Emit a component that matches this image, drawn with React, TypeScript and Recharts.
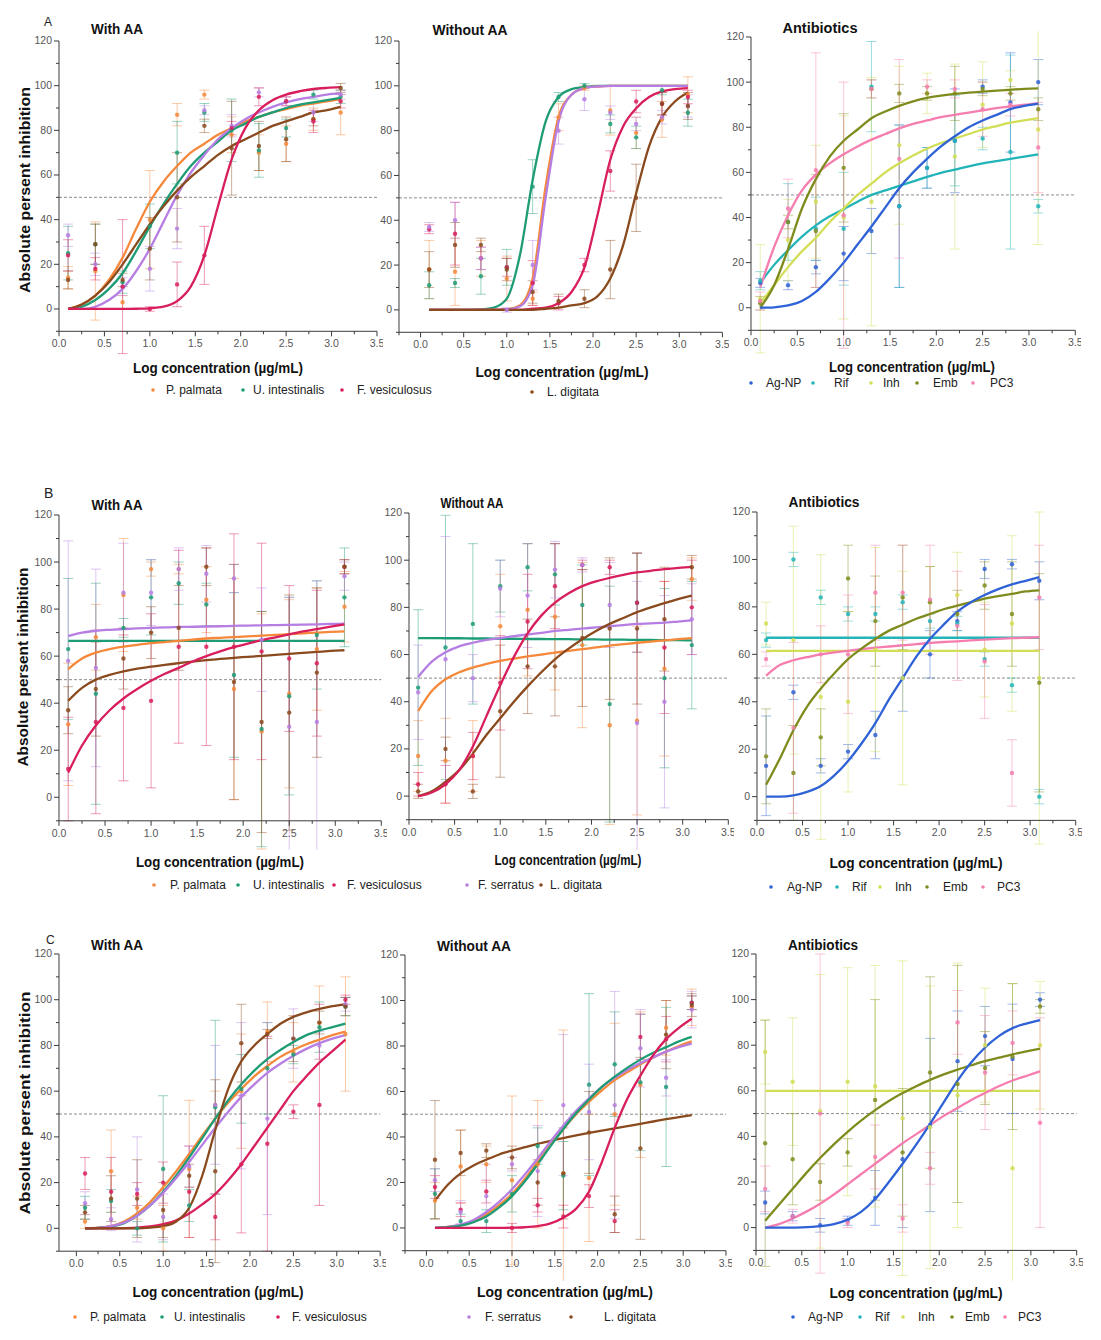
import React from 'react';
import { ComposedChart, Line, Scatter, ErrorBar, XAxis, YAxis, ReferenceLine } from 'recharts';

// Log concentrations (µg/mL) of the tested doses and of the fitted curve samples
const DOSE_X = [0.1, 0.4, 0.7, 1.0, 1.3, 1.6, 1.9, 2.2, 2.5, 2.8, 3.1];
const FIT_X = [0.1, 0.25, 0.4, 0.55, 0.7, 0.85, 1.0, 1.15, 1.3, 1.45, 1.6, 1.75, 1.9, 2.05, 2.2, 2.35, 2.5, 2.65, 2.8, 2.95, 3.1];
const X_TICKS = [-0.25, 0, 0.25, 0.5, 0.75, 1, 1.25, 1.5, 1.75, 2, 2.25, 2.5, 2.75, 3, 3.25, 3.5];
const Y_TICKS = [-10, 0, 10, 20, 30, 40, 50, 60, 70, 80, 90, 100, 110, 120];

const SEAWEED_NAMES = { palmata: 'P. palmata', intestinalis: 'U. intestinalis', vesiculosus: 'F. vesiculosus', serratus: 'F. serratus', digitata: 'L. digitata' };
const DRUG_NAMES = { agnp: 'Ag-NP', rif: 'Rif', inh: 'Inh', emb: 'Emb', pc3: 'PC3' };
const COLORS: Record<string, string> = {
  palmata: '#f5883a', intestinalis: '#1e9c75', vesiculosus: '#d81e5b', serratus: '#b67ee2', digitata: '#8a4a1e',
  agnp: '#2f62d6', rif: '#22b4b8', inh: '#d2de55', emb: '#7f8c1d', pc3: '#f57daf',
};

// ---------- Panel A ----------
const A_WITH_FIT = {
  palmata: [0, 2, 6, 13, 23, 36, 48, 57, 64, 70, 74, 78, 81, 84, 86, 88, 89.5, 91, 92, 93, 94],
  intestinalis: [0, 1, 4, 9, 16, 26, 37, 47, 56, 64, 70, 75, 80, 83, 86, 88, 90, 91.5, 92.5, 93.5, 94.5],
  serratus: [0, 0, 1, 4, 9, 17, 27, 39, 51, 61, 69, 76, 81, 85, 88, 90.5, 92.5, 94, 95, 96, 96.5],
  digitata: [0, 2, 6, 12, 20, 29, 38, 46, 53, 59, 64, 69, 73, 76, 79, 82, 84, 86, 88, 89, 90.5],
  vesiculosus: [0, 0, 0, 0, 0, 0.1, 0.3, 1, 3.5, 10, 24, 46, 67, 81, 89, 93.5, 96, 97.5, 98.5, 99, 99.3],
};
const A_WITH_MEAN = {
  palmata: [14, 17, 3, 40, 87, 96, 78, 70, 74, 85, 88],
  intestinalis: [25, 29, 12, 37, 70, 88, 80, 71, 81, 96, 95],
  serratus: [33, 20, 10, 18, 36, 89, 82, 97, 93, 88, 96],
  digitata: [13, 29, 13, 27, 50, 82, 72, 73, 76, 85, 99],
  vesiculosus: [24, 18, 10, 0, 11, 24, 81, 95, 93, 84, 93],
};
const A_WITH_ERR = {
  palmata: [5, 22, 3, 22, 5, 2, 8, 8, 8, 5, 10],
  intestinalis: [12, 9, 5, 10, 14, 4, 14, 12, 4, 2, 3],
  serratus: [5, 5, 4, 10, 9, 2, 5, 2, 2, 4, 2],
  digitata: [4, 9, 3, 14, 20, 3, 21, 11, 10, 3, 2],
  vesiculosus: [7, 5, 30, 1, 10, 13, 3, 4, 2, 5, 3],
};

const A_WITHOUT_FIT = {
  intestinalis: [0, 0, 0, 0, 0.2, 1, 5, 24, 58, 84, 95, 98.5, 99.5, 100, 100, 100, 100, 100, 100, 100, 100],
  palmata: [0, 0, 0, 0, 0, 0, 0.3, 2, 14, 55, 86, 96, 99, 99.7, 100, 100, 100, 100, 100, 100, 100],
  serratus: [0, 0, 0, 0, 0, 0, 0.2, 1.5, 11, 50, 84, 96, 99, 99.7, 100, 100, 100, 100, 100, 100, 100],
  vesiculosus: [0, 0, 0, 0, 0, 0, 0, 0, 0.5, 1, 3, 8, 19, 42, 67, 82, 90, 95, 97.5, 98.5, 99],
  digitata: [0, 0, 0, 0, 0, 0, 0, 0, 0, 0.5, 1, 2, 3, 6, 14, 29, 52, 73, 86, 93, 97],
};
const A_WITHOUT_MEAN = {
  palmata: [18, 17, 23, 14, 5, 86, 99, 89, 79, 85, 96],
  intestinalis: [11, 12, 15, 19, 55, 95, 100, 83, 77, 98, 88],
  vesiculosus: [36, 34, 23, 19, 12, 3, 20, 62, 93, 92, 95],
  serratus: [37, 40, 23, 0, 20, 80, 94, 88, 83, 86, 91],
  digitata: [18, 29, 29, 18, 8, 4, 5, 18, 50, 92, 91],
};
const A_WITHOUT_ERR = {
  palmata: [13, 15, 8, 10, 3, 6, 1, 11, 7, 8, 8],
  intestinalis: [6, 2, 8, 8, 12, 2, 1, 4, 5, 2, 6],
  vesiculosus: [2, 14, 5, 4, 10, 3, 3, 9, 5, 5, 3],
  serratus: [2, 8, 5, 1, 11, 6, 5, 3, 3, 3, 5],
  digitata: [8, 10, 3, 5, 5, 3, 4, 13, 15, 5, 6],
};

const A_ANTI_FIT = {
  rif: [11, 19, 25.5, 31.5, 36.5, 40.5, 43.7, 47, 50, 52, 54, 56, 58, 59.8, 61.2, 62.7, 64, 65, 66, 67, 68],
  inh: [2, 10, 18, 25, 31, 38, 44, 50, 55, 60, 64, 67.5, 70.5, 73, 75, 77, 79, 80.5, 82, 83, 84],
  pc3: [9, 27, 41, 52, 59, 64, 68, 71.5, 74.5, 77, 79.5, 81.5, 83, 84.5, 85.5, 86.5, 87.5, 88.5, 89.2, 90, 90.5],
  emb: [0, 10, 26, 44, 57, 67, 74, 79, 84, 87, 89.5, 91.5, 93, 94, 94.8, 95.3, 95.8, 96.2, 96.6, 97, 97.2],
  agnp: [0, 0.2, 1, 3, 7, 13, 20, 28, 36, 44.5, 53, 60, 66, 71.5, 76, 80, 83, 85.5, 88, 89.5, 90.5],
};
const A_ANTI_MEAN = {
  agnp: [11, 10, 18, 24, 34, 45, 62, 74, 98, 91, 100],
  rif: [12, 38, 35, 35, 98, 45, 62, 74, 75, 69, 45],
  inh: [4, 30, 47, 40, 47, 72, 95, 67, 90, 101, 79],
  emb: [2, 38, 34, 62, 97, 95, 95, 95, 97, 95, 88],
  pc3: [3, 44, 61, 41, 97, 66, 98, 97, 88, 90, 71],
};
const A_ANTI_ERR = {
  agnp: [2, 2, 3, 12, 10, 36, 9, 23, 3, 22, 10],
  rif: [4, 17, 14, 25, 20, 36, 9, 20, 5, 43, 3],
  inh: [24, 18, 25, 45, 55, 35, 9, 41, 19, 4, 51],
  emb: [3, 3, 25, 24, 4, 4, 3, 12, 3, 3, 5],
  pc3: [4, 13, 52, 59, 4, 44, 3, 4, 12, 5, 20],
};

// ---------- Panel B ----------
const B_WITH_FIT = {
  serratus: [68.5, 70, 70.8, 71.2, 71.5, 71.8, 72, 72.2, 72.4, 72.5, 72.6, 72.7, 72.9, 73, 73.1, 73.2, 73.3, 73.4, 73.5, 73.7, 73.8],
  intestinalis: [66.5, 66.5, 66.5, 66.5, 66.5, 66.5, 66.5, 66.5, 66.5, 66.5, 66.5, 66.5, 66.5, 66.5, 66.5, 66.5, 66.5, 66.5, 66.5, 66.5, 66.5],
  palmata: [54.5, 59, 61.5, 63, 64, 64.8, 65.5, 66, 66.5, 67, 67.5, 67.8, 68.1, 68.4, 68.7, 69, 69.4, 69.7, 70, 70.3, 70.5],
  digitata: [41, 46.5, 50, 52, 53.5, 54.7, 55.5, 56.3, 57, 57.7, 58.3, 58.8, 59.3, 59.7, 60.1, 60.5, 61, 61.4, 61.8, 62.2, 62.5],
  vesiculosus: [10.5, 22, 30.5, 37, 42, 46, 49.5, 52.5, 55, 57.7, 60, 62, 63.8, 65.3, 66.8, 68, 69.3, 70.5, 71.5, 72.5, 73.5],
};
const B_WITH_MEAN = {
  palmata: [31, 68, 86, 97, 97, 84, 46, 28, 44, 63, 81],
  intestinalis: [63, 44, 72, 85, 91, 82, 52, 29, 43, 69, 85],
  vesiculosus: [12, 32, 38, 41, 64, 64, 64, 62, 59, 57, 98],
  serratus: [58, 55, 87, 87, 97, 95, 93, 67, 30, 32, 94],
  digitata: [37, 46, 59, 70, 72, 98, 49, 32, 36, 53, 98],
};
const B_WITH_ERR = {
  palmata: [26, 14, 24, 3, 2, 14, 47, 50, 40, 26, 15],
  intestinalis: [30, 47, 4, 16, 9, 9, 35, 50, 42, 23, 21],
  vesiculosus: [22, 39, 31, 37, 41, 42, 48, 46, 31, 31, 3],
  serratus: [51, 42, 21, 14, 9, 12, 6, 22, 55, 60, 6],
  digitata: [10, 20, 13, 11, 18, 8, 50, 47, 50, 36, 3],
};

const B_WITHOUT_FIT = {
  intestinalis: [67, 67, 66.9, 66.9, 66.8, 66.8, 66.7, 66.7, 66.6, 66.6, 66.5, 66.5, 66.4, 66.4, 66.3, 66.3, 66.2, 66.2, 66.1, 66.1, 66],
  serratus: [50.5, 57, 61, 63.5, 65, 66.2, 67, 67.8, 68.5, 69.2, 70, 70.5, 71, 71.5, 72, 72.5, 73, 73.2, 73.5, 74, 74.5],
  palmata: [36, 44.5, 49.5, 52.5, 54.5, 56, 57.3, 58.3, 59.2, 60, 60.8, 61.6, 62.3, 63, 63.8, 64.4, 65, 65.5, 66, 66.5, 67],
  digitata: [0, 2, 6, 11, 18, 26, 33, 40, 46.5, 52.5, 58, 62.5, 66.5, 70, 73, 75.5, 78, 80, 81.8, 83.5, 85],
  vesiculosus: [0, 1.5, 5, 11, 21, 34, 47, 59, 69, 76.5, 82, 86, 89, 91, 92.5, 93.8, 94.8, 95.5, 96.2, 96.7, 97.2],
};
const B_WITHOUT_MEAN = {
  palmata: [17, 15, 17, 72, 79, 76, 64, 30, 32, 54, 92],
  intestinalis: [46, 63, 73, 89, 97, 94, 81, 39, 82, 50, 64],
  vesiculosus: [5, 5, 17, 48, 74, 89, 98, 97, 82, 63, 80],
  serratus: [44, 58, 50, 88, 85, 96, 98, 81, 31, 40, 75],
  digitata: [2, 20, 2, 36, 55, 55, 67, 71, 71, 75, 97],
};
const B_WITHOUT_ERR = {
  palmata: [15, 18, 15, 22, 28, 31, 35, 42, 40, 37, 9],
  intestinalis: [33, 56, 34, 11, 10, 13, 17, 50, 21, 38, 27],
  vesiculosus: [5, 8, 10, 20, 20, 18, 2, 3, 21, 28, 20],
  serratus: [20, 52, 10, 12, 22, 12, 3, 18, 60, 45, 15],
  digitata: [3, 5, 3, 28, 20, 21, 29, 30, 32, 22, 5],
};

const B_ANTI_FIT = {
  rif: [67, 67, 67, 67, 67, 67, 67, 67, 67, 67, 67, 67, 67, 67, 67, 67, 67, 67, 67, 67, 67],
  inh: [61.5, 61.5, 61.5, 61.5, 61.5, 61.5, 61.5, 61.5, 61.5, 61.5, 61.5, 61.5, 61.5, 61.5, 61.5, 61.5, 61.5, 61.5, 61.5, 61.5, 61.5],
  pc3: [51, 55.5, 57.5, 58.8, 60, 60.8, 61.5, 62.2, 62.8, 63.3, 63.8, 64.3, 64.8, 65.2, 65.5, 65.9, 66.2, 66.5, 66.8, 67, 67.2],
  emb: [5, 16, 28, 38, 45.5, 52, 58, 62.5, 66.5, 70, 72.5, 75, 77, 79, 80.5, 82, 83.5, 84.5, 85.5, 86.5, 87],
  agnp: [0, 0, 0.5, 2, 4.5, 9, 15, 22.5, 31, 41, 50, 59, 66.5, 72.5, 78, 82, 85, 87.5, 89.5, 91, 92.5],
};
const B_ANTI_MEAN = {
  agnp: [13, 44, 13, 19, 26, 50, 60, 74, 96, 98, 91],
  rif: [66, 100, 84, 77, 77, 82, 74, 73, 58, 47, 0],
  inh: [73, 66, 42, 40, 62, 50, 82, 85, 62, 73, 50],
  emb: [17, 10, 25, 92, 74, 84, 82, 77, 89, 77, 48],
  pc3: [58, 29, 60, 60, 86, 86, 83, 72, 57, 10, 84],
};
const B_ANTI_ERR = {
  agnp: [21, 3, 3, 3, 10, 14, 10, 4, 4, 2, 8],
  rif: [3, 3, 3, 3, 3, 3, 3, 3, 3, 3, 3],
  inh: [9, 48, 60, 38, 43, 45, 15, 18, 20, 37, 70],
  emb: [20, 20, 12, 14, 19, 22, 15, 10, 10, 22, 46],
  pc3: [3, 36, 12, 25, 20, 20, 23, 23, 24, 14, 22],
};

// ---------- Panel C ----------
const C_WITH_FIT = {
  palmata: [0, 0.3, 1, 3, 6.5, 11.5, 18, 25, 32.5, 40.5, 48, 55, 61, 66.5, 71, 75, 78, 80.5, 82.5, 84.5, 86],
  intestinalis: [0, 0.2, 0.7, 2.3, 5.5, 10, 16, 23, 31, 39.5, 48, 56, 63, 69, 74, 78, 81.5, 84.5, 86.5, 88, 89.5],
  serratus: [0, 0.2, 1, 2.5, 5.5, 10, 15.5, 22, 29, 36.5, 44, 51, 57.5, 63, 68, 72, 75.5, 78.5, 81, 83, 84.5],
  vesiculosus: [0, 0, 0, 0.1, 0.3, 0.8, 1.8, 3.5, 6.5, 10.5, 15, 21, 28, 36, 44, 52, 60, 66.5, 72.5, 77.5, 82.5],
  digitata: [0, 0, 0, 0, 0, 0.3, 1, 3, 9, 23, 43, 61, 73, 80, 85, 89.5, 92.5, 94.5, 96, 97.2, 98],
};
const C_WITH_MEAN = {
  palmata: [3, 25, 9, 0, 26, 54, 60, 86, 77, 90, 85],
  intestinalis: [9, 12, 0, 26, 10, 53, 61, 70, 76, 88, 97],
  vesiculosus: [24, 16, 15, 20, 16, 5, 28, 37, 51, 54, 100],
  serratus: [11, 4, 17, 5, 27, 54, 58, 48, 83, 80, 98],
  digitata: [7, 13, 13, 8, 23, 25, 81, 85, 83, 90, 97],
};
const C_WITH_ERR = {
  palmata: [3, 18, 5, 10, 30, 6, 25, 13, 13, 16, 25],
  intestinalis: [5, 5, 3, 32, 7, 38, 15, 20, 4, 11, 4],
  vesiculosus: [7, 15, 5, 9, 20, 10, 30, 47, 3, 44, 2],
  serratus: [5, 5, 23, 10, 9, 26, 32, 42, 13, 6, 3],
  digitata: [3, 10, 17, 12, 5, 40, 17, 2, 10, 5, 4],
};

const C_WITHOUT_FIT = {
  digitata: [12, 19, 24, 27.5, 30, 32.3, 34, 35.5, 37, 38.3, 39.5, 40.7, 41.8, 42.8, 43.8, 44.8, 45.8, 46.8, 47.8, 48.7, 49.6],
  palmata: [0, 0.5, 1.2, 3, 6, 10, 15, 21.5, 29, 36.5, 43.5, 50, 55.5, 60.5, 65, 68.5, 72, 75, 77.5, 80, 82],
  serratus: [0, 0.5, 1.5, 3.5, 7, 11.5, 17, 23.5, 30.5, 38, 45, 51.5, 57, 62, 66, 69.5, 72.5, 75, 77.5, 79.5, 81],
  intestinalis: [0, 0.3, 1, 2.5, 5, 9, 14, 20.5, 28, 36, 43.5, 50.5, 56.5, 62, 66.5, 70.5, 74, 77, 79.5, 82, 84],
  vesiculosus: [0, 0, 0, 0, 0, 0, 0.1, 0.3, 0.8, 2, 4.5, 8.5, 16, 29, 44, 57, 67, 76, 83, 88, 92],
};
const C_WITHOUT_MEAN = {
  palmata: [12, 27, 28, 21, 28, 24, 22, 50, 63, 88, 97],
  intestinalis: [15, 3, 3, 15, 36, 23, 63, 72, 64, 62, 99],
  vesiculosus: [18, 8, 16, 0, 10, 5, 14, 3, 84, 83, 99],
  serratus: [21, 7, 14, 28, 25, 54, 51, 54, 79, 66, 96],
  digitata: [30, 33, 34, 31, 20, 24, 42, 6, 35, 85, 98],
};
const C_WITHOUT_ERR = {
  palmata: [8, 16, 8, 37, 28, 63, 28, 40, 32, 12, 8],
  intestinalis: [11, 3, 5, 8, 8, 15, 40, 23, 30, 35, 3],
  vesiculosus: [5, 3, 5, 2, 3, 5, 5, 5, 10, 10, 3],
  serratus: [5, 5, 14, 3, 20, 31, 21, 50, 17, 8, 8],
  digitata: [26, 10, 3, 5, 10, 20, 18, 8, 40, 15, 5],
};

const C_ANTI_FIT = {
  inh: [60, 60, 60, 60, 60, 60, 60, 60, 60, 60, 60, 60, 60, 60, 60, 60, 60, 60, 60, 60, 60],
  pc3: [0, 1.5, 4, 7, 10.5, 14.5, 19, 23.5, 28, 32.5, 37, 41, 45, 49, 52.5, 56, 59, 62, 64.5, 66.5, 68.5],
  emb: [3, 10, 17, 24, 30.5, 36.5, 42, 47, 51.5, 55.5, 59, 62, 64.8, 67.2, 69.3, 71.2, 73, 74.5, 76, 77.3, 78.5],
  agnp: [0, 0, 0, 0.2, 0.6, 1.5, 3.5, 7, 12.5, 20, 28, 36.5, 45.5, 55, 64.5, 72.5, 79, 84, 87.5, 89.5, 91],
};
const C_ANTI_MEAN = {
  agnp: [11, 5, 1, 3, 13, 30, 45, 73, 84, 74, 100],
  inh: [77, 64, 51, 64, 62, 48, 44, 58, 80, 26, 80],
  emb: [37, 30, 20, 33, 56, 33, 68, 63, 70, 75, 97],
  pc3: [17, 5, 50, 2, 31, 4, 26, 90, 68, 81, 46],
};
const C_ANTI_ERR = {
  agnp: [5, 2, 3, 2, 12, 30, 38, 22, 13, 24, 3],
  inh: [14, 28, 60, 50, 53, 69, 62, 58, 25, 81, 28],
  emb: [54, 20, 8, 6, 44, 28, 42, 52, 16, 32, 3],
  pc3: [10, 3, 70, 2, 14, 6, 7, 14, 25, 14, 46],
};

type Frame = { left: number; top: number; right: number; bottom: number; xMin: number };
type Curves = Record<string, number[]>;

const FONT = 'Liberation Sans, Arial, Helvetica, sans-serif';
const AXIS = '#3a3a3a';

function XTick(props: any) {
  const { x, y, payload } = props;
  const v = payload.value as number;
  const major = Math.abs(v * 2 - Math.round(v * 2)) < 1e-6;
  return (
    <g>
      <line x1={x} x2={x} y1={y} y2={y + (major ? 5 : 3)} stroke={AXIS} strokeWidth={1} />
      {major && (
        <text x={x} y={y + 16} textAnchor="middle" fontSize={10.5} fill="#555" fontFamily={FONT}>
          {v.toFixed(1)}
        </text>
      )}
    </g>
  );
}

function YTick(props: any) {
  const { x, y, payload } = props;
  const v = payload.value as number;
  const major = v % 20 === 0;
  return (
    <g>
      <line x1={x - (major ? 5 : 3)} x2={x} y1={y} y2={y} stroke={AXIS} strokeWidth={1} />
      {major && (
        <text x={x - 7} y={y + 3.5} textAnchor="end" fontSize={10.5} fill="#555" fontFamily={FONT}>
          {v}
        </text>
      )}
    </g>
  );
}

function Panel({ frame, fit, mean, err }: { frame: Frame; fit: Curves; mean: Curves; err: Curves }) {
  const YW = 45;
  const MT = 6;
  const MR = 6;
  const XH = 30;
  const width = frame.right - frame.left + YW + MR;
  const height = frame.bottom - frame.top + MT + XH;
  const ticks = X_TICKS.filter((t) => t >= frame.xMin - 1e-9);
  return (
    <div style={{ position: 'absolute', left: frame.left - YW, top: frame.top - MT }}>
      <ComposedChart width={width} height={height} margin={{ top: MT, right: MR, bottom: 0, left: 0 }}>
        <XAxis
          type="number"
          dataKey="x"
          domain={[frame.xMin, 3.5]}
          ticks={ticks}
          interval={0}
          tickSize={0}
          tickMargin={0}
          tickLine={false}
          tick={XTick}
          height={XH}
          axisLine={{ stroke: AXIS, strokeWidth: 1 }}
          allowDataOverflow
        />
        <YAxis
          type="number"
          domain={[-10, 120]}
          ticks={Y_TICKS}
          interval={0}
          tickSize={0}
          tickMargin={0}
          tickLine={false}
          tick={YTick}
          width={YW}
          axisLine={{ stroke: AXIS, strokeWidth: 1 }}
          allowDataOverflow
        />
        <ReferenceLine y={50} stroke="#8c8c8c" strokeDasharray="3 2" strokeWidth={1} />
        {Object.keys(mean).map((k) => (
          <Scatter
            key={'pts-' + k}
            data={DOSE_X.map((x, i) => ({ x, y: mean[k][i], err: err[k][i] }))}
            dataKey="y"
            fill={COLORS[k]}
            isAnimationActive={false}
            shape={(p: any) => <circle cx={p.cx} cy={p.cy} r={2.2} fill={COLORS[k]} fillOpacity={0.85} />}
          >
            <ErrorBar dataKey="err" direction="y" width={5} stroke={COLORS[k]} strokeOpacity={0.45} strokeWidth={1} isAnimationActive={false} />
          </Scatter>
        ))}
        {Object.keys(fit).map((k) => (
          <Line
            key={'fit-' + k}
            data={FIT_X.map((x, i) => ({ x, y: fit[k][i] }))}
            dataKey="y"
            type="monotone"
            stroke={COLORS[k]}
            strokeWidth={2.3}
            dot={false}
            activeDot={false}
            isAnimationActive={false}
          />
        ))}
      </ComposedChart>
    </div>
  );
}

// Plot-area frames of the nine panels, in page pixels
const FRAMES: Record<string, Frame> = {
  aWith: { left: 59, top: 40.7, right: 377, bottom: 331, xMin: 0 },
  aWithout: { left: 399.3, top: 40.7, right: 722.7, bottom: 332, xMin: -0.25 },
  aAnti: { left: 750.7, top: 36.7, right: 1075, bottom: 330, xMin: 0 },
  bWith: { left: 58.7, top: 514.7, right: 381, bottom: 820.5, xMin: 0 },
  bWithout: { left: 408.7, top: 513.3, right: 728, bottom: 820, xMin: 0 },
  bAnti: { left: 757.3, top: 512.3, right: 1076, bottom: 820.7, xMin: 0 },
  cWith: { left: 59.3, top: 954.3, right: 380.5, bottom: 1251.5, xMin: -0.2 },
  cWithout: { left: 405, top: 955, right: 726, bottom: 1250.7, xMin: -0.25 },
  cAnti: { left: 756, top: 954.3, right: 1076.7, bottom: 1250.7, xMin: 0 },
};

type TextItem = { text: string; cx: number; cy: number; w: number; size: number; bold?: boolean; rotate?: boolean };

const TITLE_ITEMS: TextItem[] = [
  { text: 'With AA', cx: 117, cy: 29, w: 52, size: 14, bold: true },
  { text: 'Without AA', cx: 470, cy: 30, w: 75, size: 14, bold: true },
  { text: 'Antibiotics', cx: 820, cy: 28, w: 75, size: 14, bold: true },
  { text: 'With AA', cx: 117, cy: 505, w: 51, size: 14, bold: true },
  { text: 'Without AA', cx: 472, cy: 503, w: 63, size: 14, bold: true },
  { text: 'Antibiotics', cx: 824, cy: 502, w: 71, size: 14, bold: true },
  { text: 'With AA', cx: 117, cy: 945, w: 52, size: 14, bold: true },
  { text: 'Without AA', cx: 474, cy: 946, w: 74, size: 14, bold: true },
  { text: 'Antibiotics', cx: 823, cy: 945, w: 70, size: 14, bold: true },
  { text: 'Log concentration (\u00b5g/mL)', cx: 218, cy: 368, w: 170, size: 14, bold: true },
  { text: 'Log concentration (\u00b5g/mL)', cx: 562, cy: 372, w: 173, size: 14, bold: true },
  { text: 'Log concentration (\u00b5g/mL)', cx: 912, cy: 367, w: 166, size: 14, bold: true },
  { text: 'Log concentration (\u00b5g/mL)', cx: 220, cy: 862, w: 168, size: 14, bold: true },
  { text: 'Log concentration (\u00b5g/mL)', cx: 568, cy: 860, w: 147, size: 14, bold: true },
  { text: 'Log concentration (\u00b5g/mL)', cx: 916, cy: 863, w: 173, size: 14, bold: true },
  { text: 'Log concentration (\u00b5g/mL)', cx: 218, cy: 1292, w: 171, size: 14, bold: true },
  { text: 'Log concentration (\u00b5g/mL)', cx: 565, cy: 1292, w: 176, size: 14, bold: true },
  { text: 'Log concentration (\u00b5g/mL)', cx: 916, cy: 1293, w: 173, size: 14, bold: true },
  { text: 'Absolute persent inhibition', cx: 25, cy: 190, w: 206, size: 14, bold: true, rotate: true },
  { text: 'Absolute persent inhibition', cx: 23, cy: 667, w: 199, size: 14, bold: true, rotate: true },
  { text: 'Absolute persent inhibition', cx: 25, cy: 1103, w: 223, size: 14, bold: true, rotate: true },
];

type LegendItem = { key: string; label: string; dot: number; tx: number; y: number };
const LEGEND_ITEMS: LegendItem[] = [
  { key: 'palmata', label: SEAWEED_NAMES.palmata, dot: 153, tx: 166, y: 390 },
  { key: 'intestinalis', label: SEAWEED_NAMES.intestinalis, dot: 243, tx: 253, y: 390 },
  { key: 'vesiculosus', label: SEAWEED_NAMES.vesiculosus, dot: 342, tx: 357, y: 390 },
  { key: 'digitata', label: SEAWEED_NAMES.digitata, dot: 532, tx: 547, y: 392 },
  { key: 'agnp', label: DRUG_NAMES.agnp, dot: 751, tx: 766, y: 383 },
  { key: 'rif', label: DRUG_NAMES.rif, dot: 813, tx: 834, y: 383 },
  { key: 'inh', label: DRUG_NAMES.inh, dot: 871, tx: 883, y: 383 },
  { key: 'emb', label: DRUG_NAMES.emb, dot: 917, tx: 933, y: 383 },
  { key: 'pc3', label: DRUG_NAMES.pc3, dot: 973, tx: 990, y: 383 },
  { key: 'palmata', label: SEAWEED_NAMES.palmata, dot: 154, tx: 170, y: 885 },
  { key: 'intestinalis', label: SEAWEED_NAMES.intestinalis, dot: 238, tx: 253, y: 885 },
  { key: 'vesiculosus', label: SEAWEED_NAMES.vesiculosus, dot: 334, tx: 347, y: 885 },
  { key: 'serratus', label: SEAWEED_NAMES.serratus, dot: 467, tx: 478, y: 885 },
  { key: 'digitata', label: SEAWEED_NAMES.digitata, dot: 541, tx: 550, y: 885 },
  { key: 'agnp', label: DRUG_NAMES.agnp, dot: 771, tx: 787, y: 887 },
  { key: 'rif', label: DRUG_NAMES.rif, dot: 837, tx: 852, y: 887 },
  { key: 'inh', label: DRUG_NAMES.inh, dot: 880, tx: 895, y: 887 },
  { key: 'emb', label: DRUG_NAMES.emb, dot: 927, tx: 943, y: 887 },
  { key: 'pc3', label: DRUG_NAMES.pc3, dot: 983, tx: 997, y: 887 },
  { key: 'palmata', label: SEAWEED_NAMES.palmata, dot: 75, tx: 90, y: 1317 },
  { key: 'intestinalis', label: SEAWEED_NAMES.intestinalis, dot: 162, tx: 174, y: 1317 },
  { key: 'vesiculosus', label: SEAWEED_NAMES.vesiculosus, dot: 278, tx: 292, y: 1317 },
  { key: 'serratus', label: SEAWEED_NAMES.serratus, dot: 469, tx: 485, y: 1317 },
  { key: 'digitata', label: SEAWEED_NAMES.digitata, dot: 571, tx: 604, y: 1317 },
  { key: 'agnp', label: DRUG_NAMES.agnp, dot: 793, tx: 808, y: 1317 },
  { key: 'rif', label: DRUG_NAMES.rif, dot: 860, tx: 875, y: 1317 },
  { key: 'inh', label: DRUG_NAMES.inh, dot: 903, tx: 918, y: 1317 },
  { key: 'emb', label: DRUG_NAMES.emb, dot: 952, tx: 965, y: 1317 },
  { key: 'pc3', label: DRUG_NAMES.pc3, dot: 1005, tx: 1018, y: 1317 },
];

function Annotations() {
  return (
    <svg width={1090} height={1335} style={{ position: 'absolute', left: 0, top: 0, pointerEvents: 'none' }}>
      <text x={44} y={26} fontSize={12} fontFamily={FONT} fill="#222">A</text>
      <text x={44} y={498} fontSize={14} fontFamily={FONT} fill="#222">B</text>
      <text x={46} y={944} fontSize={12} fontFamily={FONT} fill="#222">C</text>
      {TITLE_ITEMS.map((t, i) => {
        const base = t.size * 0.35;
        if (t.rotate) {
          return (
            <text
              key={i}
              transform={`translate(${t.cx + base},${t.cy}) rotate(-90)`}
              textAnchor="middle"
              fontSize={t.size}
              fontWeight={t.bold ? 700 : 400}
              fontFamily={FONT}
              fill="#111"
              textLength={t.w}
              lengthAdjust="spacingAndGlyphs"
            >
              {t.text}
            </text>
          );
        }
        return (
          <text
            key={i}
            x={t.cx}
            y={t.cy + base}
            textAnchor="middle"
            fontSize={t.size}
            fontWeight={t.bold ? 700 : 400}
            fontFamily={FONT}
            fill="#111"
            textLength={t.w}
            lengthAdjust="spacingAndGlyphs"
          >
            {t.text}
          </text>
        );
      })}
      {LEGEND_ITEMS.map((l, i) => (
        <g key={'lg' + i}>
          <circle cx={l.dot} cy={l.y} r={1.8} fill={COLORS[l.key]} />
          <text x={l.tx} y={l.y + 4.2} fontSize={12} fontFamily={FONT} fill="#222">
            {l.label}
          </text>
        </g>
      ))}
    </svg>
  );
}

export default function App() {
  return (
    <div style={{ position: 'absolute', left: 0, top: 0, width: 1090, height: 1335, background: '#fff', fontFamily: FONT }}>
      <Panel frame={FRAMES.aWith} fit={A_WITH_FIT} mean={A_WITH_MEAN} err={A_WITH_ERR} />
      <Panel frame={FRAMES.aWithout} fit={A_WITHOUT_FIT} mean={A_WITHOUT_MEAN} err={A_WITHOUT_ERR} />
      <Panel frame={FRAMES.aAnti} fit={A_ANTI_FIT} mean={A_ANTI_MEAN} err={A_ANTI_ERR} />
      <Panel frame={FRAMES.bWith} fit={B_WITH_FIT} mean={B_WITH_MEAN} err={B_WITH_ERR} />
      <Panel frame={FRAMES.bWithout} fit={B_WITHOUT_FIT} mean={B_WITHOUT_MEAN} err={B_WITHOUT_ERR} />
      <Panel frame={FRAMES.bAnti} fit={B_ANTI_FIT} mean={B_ANTI_MEAN} err={B_ANTI_ERR} />
      <Panel frame={FRAMES.cWith} fit={C_WITH_FIT} mean={C_WITH_MEAN} err={C_WITH_ERR} />
      <Panel frame={FRAMES.cWithout} fit={C_WITHOUT_FIT} mean={C_WITHOUT_MEAN} err={C_WITHOUT_ERR} />
      <Panel frame={FRAMES.cAnti} fit={C_ANTI_FIT} mean={C_ANTI_MEAN} err={C_ANTI_ERR} />
      <Annotations />
    </div>
  );
}
